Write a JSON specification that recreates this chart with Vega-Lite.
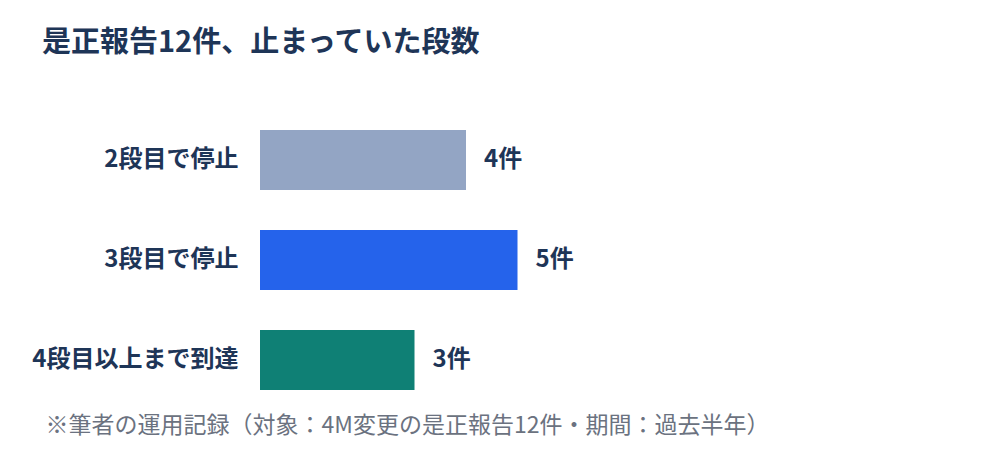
{
  "$schema": "https://vega.github.io/schema/vega-lite/v6.json",
  "autosize": {"type": "none"},
  "width": 515,
  "height": 300,
  "padding": {"left": 260, "top": 110, "right": 225, "bottom": 60},
  "background": "#ffffff",
  "title": {
    "text": "是正報告12件、止まっていた段数",
    "anchor": "start",
    "frame": "group",
    "baseline": "alphabetic",
    "offset": 29,
    "dx": -218,
    "font": "Noto Sans CJK JP",
    "fontSize": 29,
    "fontWeight": "bold",
    "color": "#1E3557"
  },
  "data": {
    "values": [
      {"stage": "2段目で停止", "count": 4, "label": "4件"},
      {"stage": "3段目で停止", "count": 5, "label": "5件"},
      {"stage": "4段目以上まで到達", "count": 3, "label": "3件"}
    ]
  },
  "encoding": {
    "y": {
      "field": "stage",
      "type": "nominal",
      "sort": null,
      "scale": {"paddingInner": 0.4, "paddingOuter": 0.2},
      "axis": {
        "title": null,
        "ticks": false,
        "domain": false,
        "labelPadding": 22,
        "labelLimit": 300,
        "labelFont": "Noto Sans CJK JP",
        "labelFontSize": 24,
        "labelFontWeight": "bold",
        "labelColor": "#1E3557"
      }
    },
    "x": {
      "field": "count",
      "type": "quantitative",
      "scale": {"domain": [0, 10]},
      "axis": {
        "title": "※筆者の運用記録（対象：4M変更の是正報告12件・期間：過去半年）",
        "titleX": -215,
        "titleY": 22,
        "titleAnchor": "start",
        "titleAlign": "left",
        "titleBaseline": "alphabetic",
        "titleFont": "Noto Sans CJK JP",
        "titleFontSize": 23,
        "titleFontWeight": "normal",
        "titleColor": "#6B7280",
        "labels": false,
        "ticks": false,
        "domain": false,
        "grid": false
      }
    }
  },
  "layer": [
    {
      "mark": {"type": "bar"},
      "encoding": {
        "color": {
          "field": "stage",
          "type": "nominal",
          "legend": null,
          "scale": {
            "domain": ["2段目で停止", "3段目で停止", "4段目以上まで到達"],
            "range": ["#93A5C4", "#2563EB", "#0F8075"]
          }
        }
      }
    },
    {
      "mark": {
        "type": "text",
        "align": "left",
        "dx": 18,
        "font": "Noto Sans CJK JP",
        "fontSize": 24,
        "fontWeight": "bold",
        "color": "#1E3557"
      },
      "encoding": {"text": {"field": "label"}}
    }
  ],
  "config": {"view": {"stroke": null}}
}
